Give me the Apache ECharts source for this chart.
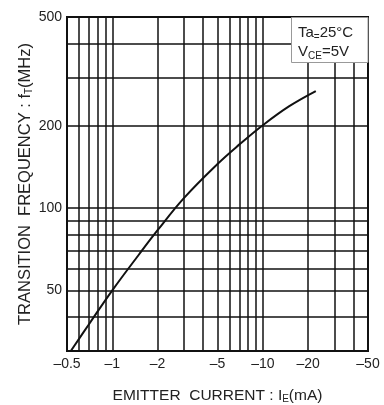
<!DOCTYPE html>
<html>
<head>
<meta charset="utf-8">
<script src="https://cdn.jsdelivr.net/npm/echarts@6/dist/echarts.min.js"></script>
<style>
  html, body { margin: 0; padding: 0; background: #fff; }
  #chart { width: 384px; height: 405px; }
</style>
</head>
<body>
<div id="chart"></div>
<script>
// emitter current magnitude (mA) and transition frequency (MHz)
const currentMA = [0.53, 0.7, 1, 1.5, 2, 3, 5, 7, 10, 15, 22.5];
const freqMHz = [30, 37.6, 50, 67.5, 83, 109, 145, 171, 201, 236, 268];

// axis labels and grid lines
const xLabelValues = [0.5, 1, 2, 5, 10, 20, 50];
const xGridValues = [0.6, 0.7, 0.8, 0.9, 1, 2, 3, 4, 5, 6, 7, 8, 9, 10, 20, 30, 40];
const yLabelValues = [50, 100, 200, 500];
const yGridValues = [40, 50, 60, 70, 80, 90, 100, 200, 300, 400];

const FONT = 'Liberation Sans, Arial, sans-serif';
const TEXT = '#222';

const chart = echarts.init(document.getElementById('chart'));

const subStyle = { fontFamily: FONT, fontSize: 10, color: TEXT, verticalAlign: 'bottom', padding: [6, 0, 0, 0] };

const option = {
  animation: false,
  grid: {
    left: 67, right: 16, top: 17, bottom: 54,
    outerBoundsMode: 'none',
    containLabel: false,
    show: true, borderColor: '#111', borderWidth: 2
  },
  xAxis: {
    type: 'log',
    min: 0.5,
    max: 50,
    name: 'EMITTER  CURRENT : I{s|E}(mA)',
    nameLocation: 'middle',
    nameGap: 37,
    nameTextStyle: {
      fontFamily: FONT, fontSize: 15.5, color: TEXT,
      rich: { s: subStyle }
    },
    axisLine: { show: true, lineStyle: { color: '#111', width: 2 } },
    axisTick: { show: false, customValues: xGridValues },
    axisLabel: {
      customValues: xLabelValues,
      margin: 6,
      fontFamily: FONT, fontSize: 14, color: TEXT,
      formatter: v => '\u2013' + (+v.toPrecision(3))
    },
    splitLine: { show: true, lineStyle: { color: '#111', width: 1.5 } }
  },
  yAxis: {
    type: 'log',
    min: 30,
    max: 500,
    name: 'TRANSITION  FREQUENCY : f{s|T}(MHz)',
    nameLocation: 'middle',
    nameGap: 33,
    nameMoveOverlap: false,
    nameTextStyle: {
      fontFamily: FONT, fontSize: 16.5, color: TEXT,
      rich: { s: subStyle }
    },
    axisLine: { show: true, lineStyle: { color: '#111', width: 2 } },
    axisTick: { show: false, customValues: yGridValues },
    axisLabel: {
      customValues: yLabelValues,
      margin: 5,
      fontFamily: FONT, fontSize: 14, color: TEXT,
      formatter: v => String(+v.toPrecision(3))
    },
    splitLine: { show: true, lineStyle: { color: '#111', width: 1.5 } }
  },
  series: [
    {
      type: 'line',
      data: currentMA.map((x, i) => [x, freqMHz[i]]),
      smooth: 0.4,
      showSymbol: false,
      lineStyle: { color: '#111', width: 2 },
      z: 5
    }
  ],
  graphic: [
    {
      type: 'rect',
      shape: { x: 291.5, y: 17.5, width: 76.5, height: 45 },
      style: { fill: '#fff', stroke: '#999', lineWidth: 1 },
      z: 100
    },
    {
      type: 'text',
      left: 298,
      top: 25,
      z: 101,
      style: {
        text: '{n|Ta}{s|=}{n|25\u00B0C}\n{n|V}{s|CE}{n|=5V}',
        rich: {
          n: { fontFamily: FONT, fontSize: 15, fill: TEXT, lineHeight: 19 },
          s: { fontFamily: FONT, fontSize: 10, fill: TEXT, lineHeight: 19, verticalAlign: 'bottom', padding: [5, 0, 0, 0] }
        }
      }
    }
  ]
};

chart.setOption(option);
</script>
</body>
</html>
